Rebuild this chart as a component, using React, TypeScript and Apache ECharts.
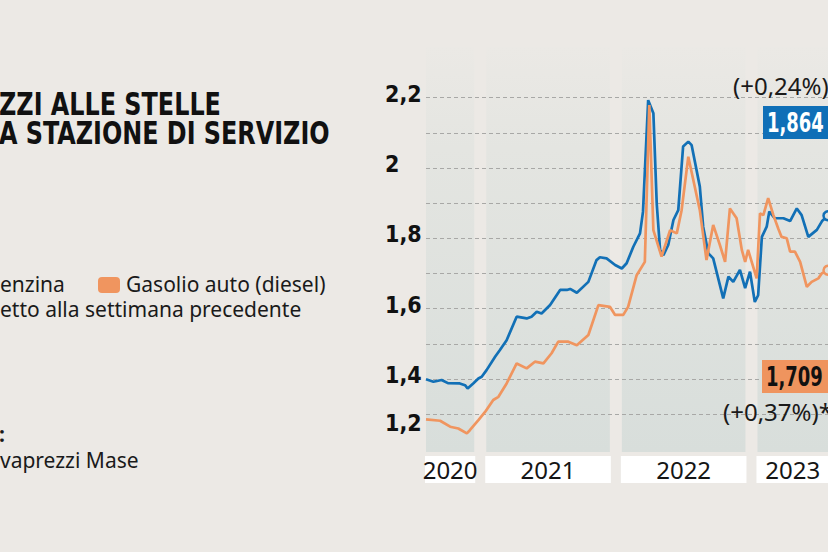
import React, { useEffect, useRef } from "react";
import * as echarts from "echarts";

// ---------- data ----------
const benzinaDates = [
  "2020-08-08", "2020-08-28", "2020-09-19", "2020-10-06", "2020-11-07", "2020-11-21", "2020-11-28",
  "2020-12-13", "2020-12-27", "2021-01-05", "2021-01-18", "2021-02-10", "2021-02-23", "2021-03-13",
  "2021-04-09", "2021-05-06", "2021-05-19", "2021-06-02", "2021-06-15", "2021-07-08", "2021-08-04",
  "2021-08-22", "2021-08-31", "2021-09-18", "2021-10-19", "2021-11-10", "2021-11-19", "2021-12-07",
  "2021-12-30", "2022-01-17", "2022-01-30", "2022-02-17", "2022-03-07", "2022-03-15", "2022-03-29",
  "2022-04-12", "2022-04-21", "2022-04-30", "2022-05-09", "2022-05-22", "2022-06-05", "2022-06-18",
  "2022-07-01", "2022-07-15", "2022-07-24", "2022-08-15", "2022-08-24", "2022-09-07", "2022-09-20",
  "2022-10-17", "2022-10-31", "2022-11-13", "2022-12-01", "2022-12-15", "2022-12-28", "2023-01-10",
  "2023-01-19", "2023-01-29", "2023-02-11", "2023-02-18", "2023-03-05", "2023-03-28", "2023-04-15",
  "2023-05-03", "2023-05-16", "2023-06-03", "2023-06-26", "2023-07-10", "2023-07-26",
];
const benzinaValues = [
  1.399, 1.392, 1.397, 1.388, 1.387, 1.382, 1.373,
  1.387, 1.401, 1.406, 1.425, 1.463, 1.482, 1.51,
  1.577, 1.572, 1.577, 1.591, 1.586, 1.61, 1.653,
  1.653, 1.656, 1.645, 1.676, 1.738, 1.746, 1.743,
  1.724, 1.714, 1.729, 1.776, 1.814, 1.875, 2.193,
  2.156, 1.899, 1.767, 1.752, 1.781, 1.852, 1.88,
  2.061, 2.075, 2.065, 1.947, 1.833, 1.757, 1.743,
  1.629, 1.691, 1.676, 1.71, 1.658, 1.705, 1.619,
  1.638, 1.804, 1.833, 1.876, 1.857, 1.857, 1.849,
  1.885, 1.866, 1.804, 1.824, 1.849, 1.864,
];
const dieselDates = [
  "2020-08-08", "2020-09-15", "2020-10-12", "2020-11-03", "2020-11-26", "2020-12-04", "2020-12-27",
  "2021-01-14", "2021-02-05", "2021-02-19", "2021-03-13", "2021-04-09", "2021-05-06", "2021-05-28",
  "2021-06-20", "2021-07-12", "2021-07-30", "2021-08-26", "2021-09-18", "2021-10-19", "2021-11-15",
  "2021-12-16", "2021-12-30", "2022-01-21", "2022-02-03", "2022-02-26", "2022-03-20", "2022-04-01",
  "2022-04-12", "2022-05-04", "2022-05-27", "2022-06-14", "2022-06-27", "2022-07-15", "2022-08-15",
  "2022-09-02", "2022-09-20", "2022-10-08", "2022-10-22", "2022-11-04", "2022-11-22", "2022-12-06",
  "2022-12-15", "2022-12-23", "2023-01-15", "2023-01-24", "2023-02-02", "2023-02-15", "2023-03-01",
  "2023-03-14", "2023-03-23", "2023-04-06", "2023-04-15", "2023-04-28", "2023-05-12", "2023-05-30",
  "2023-06-12", "2023-06-30", "2023-07-09", "2023-07-26",
];
const dieselValues = [
  1.285, 1.281, 1.264, 1.259, 1.245, 1.254, 1.283,
  1.306, 1.34, 1.349, 1.387, 1.444, 1.43, 1.449,
  1.444, 1.473, 1.506, 1.506, 1.496, 1.525, 1.61,
  1.605, 1.582, 1.582, 1.605, 1.695, 1.733, 2.179,
  1.823, 1.748, 1.823, 1.814, 1.88, 2.032, 1.88,
  1.738, 1.838, 1.781, 1.733, 1.885, 1.857, 1.767,
  1.733, 1.767, 1.686, 1.871, 1.866, 1.914, 1.866,
  1.828, 1.804, 1.8, 1.762, 1.762, 1.733, 1.662,
  1.676, 1.686, 1.7, 1.709,
];
const yearLabels = ["2020", "2021", "2022", "2023"];
const yTickValues = [1.2, 1.4, 1.6, 1.8, 2.0, 2.2];
const yTickLabels = ["1,2", "1,4", "1,6", "1,8", "2", "2,2"];
const benzinaChange = "(+0,24%)";
const dieselChange = "(+0,37%)*";
const titleLines = ["ZZI ALLE STELLE", "A STAZIONE DI SERVIZIO"];
const legendTexts = ["enzina", "Gasolio auto (diesel)"];
const noteText = "etto alla settimana precedente";
const sourceLabel = ":";
const sourceText = "vaprezzi Mase";

// ---------- styles ----------
const BG = "#ece9e5";
const BLUE = "#1270b6";
const ORANGE = "#f0955f";
const BODY_FONT = "'Noto Sans', 'DejaVu Sans', sans-serif";
const COND_FONT = "'DejaVu Sans Condensed', 'DejaVu Sans', sans-serif";
const AXIS_FONT = "'DejaVu Sans Condensed', 'DejaVu Sans', sans-serif";

const fmt = (v: number) => v.toFixed(3).replace(".", ",");

function seriesData(dates: string[], values: number[], color: string) {
  return dates.map((d, i) =>
    i === dates.length - 1
      ? {
          value: [d, values[i]],
          symbol: "circle",
          symbolSize: 9,
          itemStyle: { color: "#dfe2de", borderColor: color, borderWidth: 2.5 },
        }
      : [d, values[i]]
  );
}

function txt(
  text: string,
  x: number,
  y: number,
  size: number,
  family: string,
  weight: any,
  fill: string,
  scaleX = 1
) {
  return {
    type: "text",
    x,
    y,
    scaleX,
    z: 100,
    silent: true,
    style: {
      text,
      fill,
      fontSize: size,
      fontFamily: family,
      fontWeight: weight,
      align: "left",
      verticalAlign: "middle",
      textAlign: "left",
      textVerticalAlign: "middle",
    },
  };
}

export default function App() {
  const ref = useRef<HTMLDivElement>(null);

  useEffect(() => {
    if (!ref.current) return;
    const chart = echarts.init(ref.current, undefined, { renderer: "svg" });
    const xMin = benzinaDates[0];
    const xMax = benzinaDates[benzinaDates.length - 1];
    const lastB = benzinaValues[benzinaValues.length - 1];
    const lastD = dieselValues[dieselValues.length - 1];

    const panelGradient = new echarts.graphic.LinearGradient(0, 0, 0, 1, [
      { offset: 0, color: "#ebe9e5" },
      { offset: 0.25, color: "#e4e5e1" },
      { offset: 1, color: "#d8dedb" },
    ]);

    const option: any = {
      animation: false,
      backgroundColor: BG,
      grid: [
        { left: 426, right: 0, top: 47, bottom: 100 },
        { left: 426, right: 0, top: 97.7, bottom: 102.8 },
      ],
      xAxis: [
        { type: "time", gridIndex: 0, min: xMin, max: xMax, show: false },
        { type: "time", gridIndex: 1, min: xMin, max: xMax, show: false },
      ],
      yAxis: [
        { type: "value", gridIndex: 0, min: 0, max: 1, show: false },
        {
          type: "value",
          gridIndex: 1,
          min: 1.2,
          max: 2.2,
          interval: 0.1,
          z: 3,
          axisLine: { show: false },
          axisTick: { show: false },
          splitLine: {
            show: true,
            showMinLine: false,
            lineStyle: { color: "#a8a8a6", width: 1, type: [4, 3] },
          },
          axisLabel: {
            align: "left",
            margin: 41,
            formatter: (v: number) => {
              const i = yTickValues.findIndex((t) => Math.abs(t - v) < 1e-6);
              if (i < 0) return "";
              return `{${i === 0 ? "low" : "n"}|${yTickLabels[i]}}`;
            },
            rich: {
              n: { fontFamily: AXIS_FONT, fontWeight: "bold", fontSize: 23, color: "#111", padding: [0, 0, 8, 0] },
              low: { fontFamily: AXIS_FONT, fontWeight: "bold", fontSize: 23, color: "#111", padding: [0, 0, 53, 0] },
            },
          },
        },
      ],
      series: [
        {
          type: "custom",
          name: "anni",
          xAxisIndex: 0,
          yAxisIndex: 0,
          z: 1,
          clip: false,
          silent: true,
          encode: { x: [0, 1], y: 2 },
          data: yearLabels.map((y) => [`${y}-01-01`, `${Number(y) + 1}-01-01`, 0]),
          renderItem: (params: any, api: any) => {
            const cs = params.coordSys;
            const gap = 6;
            let x0 = api.coord([api.value(0), 0])[0] + gap;
            let x1 = api.coord([api.value(1), 0])[0] - gap;
            x0 = Math.max(x0, cs.x);
            x1 = Math.min(x1, cs.x + cs.width);
            const boxTop = cs.y + cs.height + 4;
            const boxH = 27;
            return {
              type: "group",
              children: [
                {
                  type: "rect",
                  shape: { x: x0, y: cs.y, width: x1 - x0, height: cs.height },
                  style: { fill: panelGradient },
                },
                {
                  type: "rect",
                  shape: { x: x0 - 1, y: boxTop, width: x1 - x0 + 2, height: boxH },
                  style: { fill: "#ffffff" },
                },
                {
                  type: "text",
                  style: {
                    text: yearLabels[params.dataIndex],
                    x: (x0 + x1) / 2,
                    y: boxTop + boxH / 2,
                    align: "center",
                    verticalAlign: "middle",
                    textAlign: "center",
                    textVerticalAlign: "middle",
                    fontFamily: BODY_FONT,
                    fontSize: 24,
                    fill: "#151515",
                  },
                },
              ],
            };
          },
        },
        {
          type: "line",
          name: "Benzina",
          xAxisIndex: 1,
          yAxisIndex: 1,
          z: 5,
          clip: false,
          symbol: "none",
          showSymbol: true,
          lineStyle: { color: BLUE, width: 2.7 },
          itemStyle: { color: BLUE },
          data: seriesData(benzinaDates, benzinaValues, BLUE),
        },
        {
          type: "line",
          name: "Gasolio auto (diesel)",
          xAxisIndex: 1,
          yAxisIndex: 1,
          z: 6,
          clip: false,
          symbol: "none",
          showSymbol: true,
          lineStyle: { color: ORANGE, width: 2.7 },
          itemStyle: { color: ORANGE },
          data: seriesData(dieselDates, dieselValues, ORANGE),
        },
      ],
      graphic: {
        elements: [
          txt(titleLines[0], -1, 104, 32, COND_FONT, "bold", "#111", 0.83),
          txt(titleLines[1], -1, 133.5, 32, COND_FONT, "bold", "#111", 0.83),
          txt(legendTexts[0], 0, 284, 21, BODY_FONT, "normal", "#1a1a1a"),
          {
            type: "rect",
            z: 100,
            silent: true,
            shape: { x: 98, y: 277, width: 22, height: 16, r: 4 },
            style: { fill: ORANGE },
          },
          txt(legendTexts[1], 126, 284, 21, BODY_FONT, "normal", "#1a1a1a"),
          txt(noteText, 0, 309, 21, BODY_FONT, "normal", "#1a1a1a"),
          txt(sourceLabel, -1, 434, 21, BODY_FONT, "bold", "#1a1a1a"),
          txt(sourceText, 0, 460, 21, BODY_FONT, "normal", "#1a1a1a"),
          txt(benzinaChange, 733, 85, 24, BODY_FONT, "normal", "#1a1a1a"),
          {
            type: "rect",
            z: 100,
            silent: true,
            shape: { x: 763, y: 106, width: 90, height: 33 },
            style: { fill: "#0f6fb7" },
          },
          txt(fmt(lastB), 767, 123, 27, COND_FONT, "bold", "#ffffff", 0.74),
          {
            type: "rect",
            z: 100,
            silent: true,
            shape: { x: 762, y: 360, width: 90, height: 33 },
            style: { fill: "#ef945e" },
          },
          txt(fmt(lastD), 766, 377, 27, COND_FONT, "bold", "#111", 0.74),
          txt(dieselChange, 723, 411, 24, BODY_FONT, "normal", "#1a1a1a"),
        ],
      },
    };

    chart.setOption(option);
    return () => chart.dispose();
  }, []);

  return (
    <div
      ref={ref}
      style={{ position: "absolute", left: 0, top: 0, width: 828, height: 552, overflow: "hidden" }}
    />
  );
}
